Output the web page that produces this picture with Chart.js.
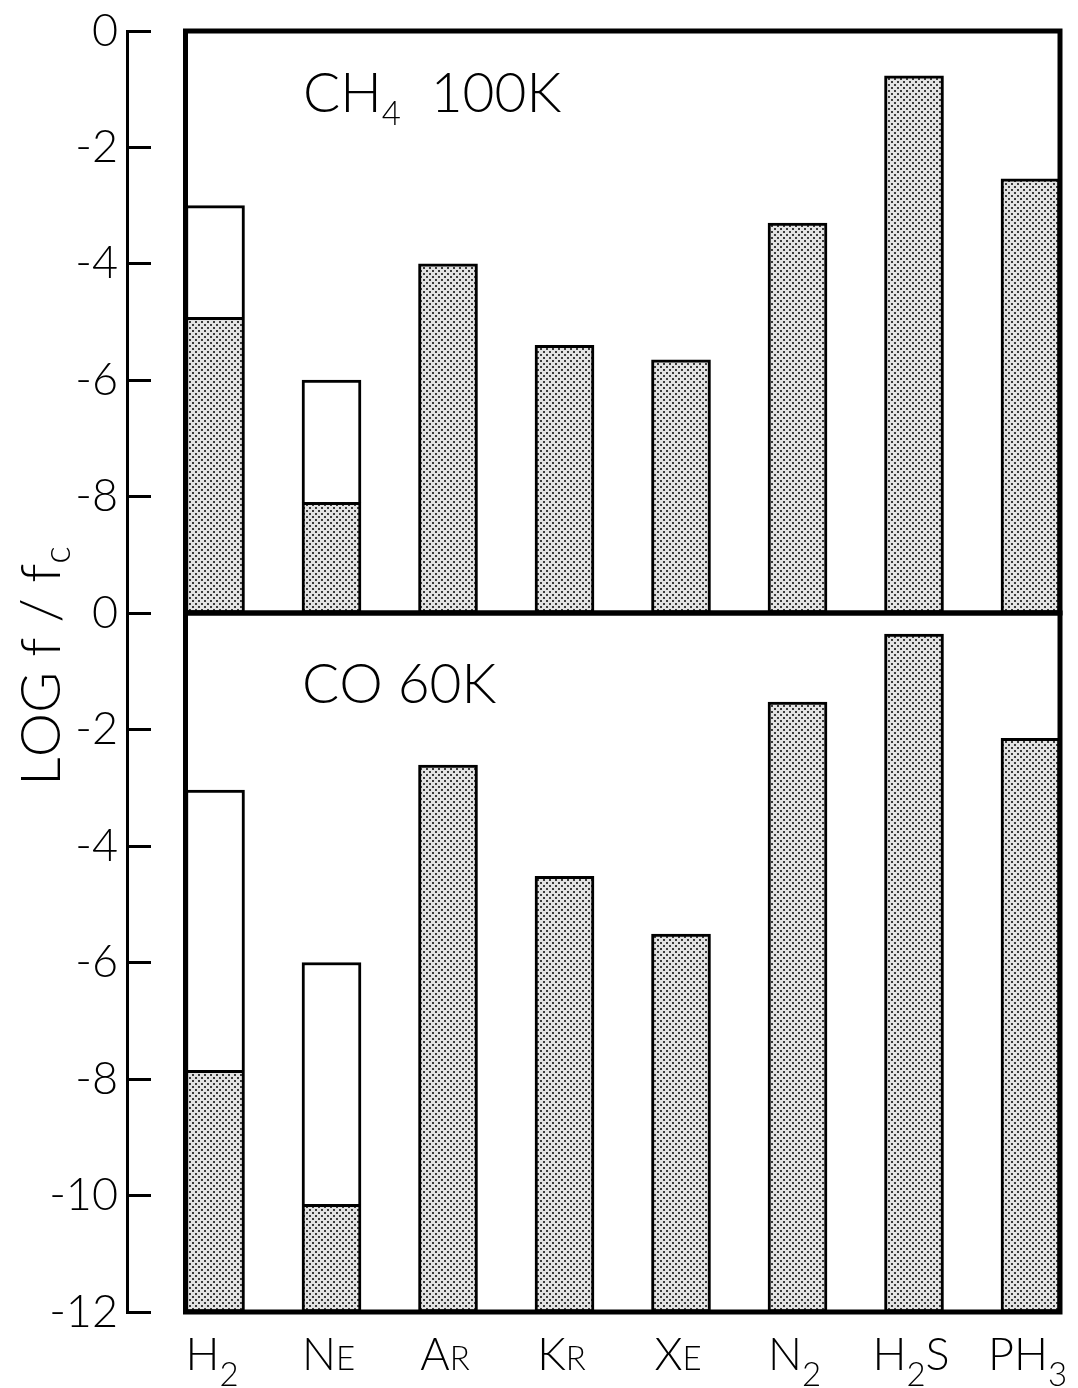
<!DOCTYPE html>
<html>
<head>
<meta charset="utf-8">
<title>LOG f / fc : CH4 100K and CO 60K</title>
<script src="https://cdn.jsdelivr.net/npm/chart.js@4.4.1/dist/chart.umd.min.js"></script>
<style>
  html, body { margin: 0; padding: 0; background: #fff; }
  #wrap { position: relative; width: 1078px; height: 1388px; }
  #wrap canvas { position: absolute; left: 0; top: 0; }
</style>
</head>
<body>
<div id="wrap">
  <canvas id="ch4Chart" width="1078" height="1388"></canvas>
  <canvas id="coChart" width="1078" height="1388"></canvas>
</div>
<script>
// -- Data --
const molecules = ["H_2", "Ne", "Ar", "Kr", "Xe", "N_2", "H_2S", "PH_3"];

const ch4Ticks = [0, -2, -4, -6, -8];
const ch4Stippled = [-4.92, -8.1, -4.0, -5.4, -5.65, -3.3, -0.77, -2.54];
const ch4OpenTop = [-3.0, -6.0, null, null, null, null, null, null];

const coTicks = [0, -2, -4, -6, -8, -10, -12];
const coStippled = [-7.85, -10.15, -2.61, -4.52, -5.51, -1.53, -0.36, -2.15];
const coOpenTop = [-3.04, -6.0, null, null, null, null, null, null];

const FONT = 'Lato, "Liberation Sans", Arial, sans-serif';
const WEIGHT = 300;
const BAR_W = 59;

// -- dotted fill like the old stipple screen --
function makeStipple(ctx) {
  const c = document.createElement("canvas");
  c.width = 6;
  c.height = 6;
  const g = c.getContext("2d");
  g.fillStyle = "#e2e2e2";
  g.fillRect(0, 0, 6, 6);
  g.fillStyle = "#3a3a3a";
  g.fillRect(0, 0, 2, 2);
  g.fillRect(3, 3, 2, 2);
  return ctx.createPattern(c, "repeat");
}

// -- text with subscripts ("_x") and optional small caps for lowercase --
function drawRich(ctx, str, x, y, size, opts) {
  const parts = [];
  for (let i = 0; i < str.length; i++) {
    const ch = str[i];
    if (ch === "_" && i + 1 < str.length) {
      parts.push({ t: str[i + 1], kind: "sub" });
      i++;
    } else if (opts.smallCaps && /[a-z]/.test(ch)) {
      parts.push({ t: ch.toUpperCase(), kind: "sc" });
    } else {
      parts.push({ t: ch, kind: "main" });
    }
  }
  const fontFor = (k) =>
    WEIGHT + " " + (k === "sub" ? opts.subSize : k === "sc" ? opts.scSize : size) + "px " + FONT;
  let total = 0;
  parts.forEach((p) => {
    ctx.font = fontFor(p.kind);
    p.w = ctx.measureText(p.t).width;
    total += p.w;
  });
  ctx.save();
  ctx.fillStyle = "#000";
  ctx.textBaseline = "alphabetic";
  ctx.textAlign = "left";
  ctx.translate(x, y);
  if (opts.rotate) ctx.rotate(opts.rotate);
  let cx = opts.align === "center" ? -total / 2 : 0;
  parts.forEach((p) => {
    ctx.font = fontFor(p.kind);
    ctx.fillText(p.t, cx, p.kind === "sub" ? opts.subDrop : 0);
    cx += p.w;
  });
  ctx.restore();
}

// -- heavy box round each panel, edges on the outer bars --
const framePlugin = {
  id: "frame",
  afterDatasetsDraw(chart) {
    const { ctx, scales } = chart;
    const x = scales.x, y = scales.y;
    const left = x.getPixelForValue(0) - BAR_W / 2;
    const right = x.getPixelForValue(molecules.length - 1) + BAR_W / 2;
    const top = y.getPixelForValue(y.max);
    const bottom = y.getPixelForValue(y.min);
    ctx.save();
    ctx.lineWidth = 5;
    ctx.strokeStyle = "#000";
    ctx.strokeRect(left, top, right - left, bottom - top);
    ctx.restore();
  },
};

function panelLabel(text, dx, dy) {
  return {
    id: "panelLabel",
    afterDraw(chart) {
      const a = chart.chartArea;
      drawRich(chart.ctx, text, a.left + dx, a.top + dy, 55, {
        subSize: 33,
        subDrop: 13,
      });
    },
  };
}

// -- molecule names under the lower panel and the shared y title --
const axisTextPlugin = {
  id: "axisText",
  afterDraw(chart) {
    const { ctx, scales } = chart;
    molecules.forEach((m, i) => {
      drawRich(ctx, m, scales.x.getPixelForValue(i) - 3, 1370, 45, {
        subSize: 33,
        subDrop: 16,
        scSize: 33,
        smallCaps: true,
        align: "center",
      });
    });
    drawRich(ctx, "LOG f / f_c", 60, 666, 56, {
      subSize: 37,
      subDrop: 10,
      rotate: -Math.PI / 2,
      align: "center",
    });
  },
};

// -- builds one panel --
function makePanel(id, stippled, openTop, yMin, ticks, padTop, padBottom, plugins) {
  const ctx = document.getElementById(id).getContext("2d");
  const stippledData = stippled.map((v, i) => ({ x: i, y: [yMin, v] }));
  const openData = [];
  openTop.forEach((v, i) => {
    if (v !== null) openData.push({ x: i, y: [stippled[i], v] });
  });

  return new Chart(ctx, {
    type: "bar",
    data: {
      datasets: [
        {
          label: "stippled",
          data: stippledData,
          backgroundColor: makeStipple(ctx),
          borderColor: "#000",
          borderWidth: 3,
          borderSkipped: false,
          barThickness: BAR_W,
          grouped: false,
        },
        {
          label: "open",
          data: openData,
          backgroundColor: "#fff",
          borderColor: "#000",
          borderWidth: 3,
          // pixel base sits below the top here, so "top" drops the lower edge
          borderSkipped: "top",
          barThickness: BAR_W,
          grouped: false,
        },
      ],
    },
    options: {
      responsive: false,
      animation: false,
      events: [],
      layout: {
        padding: { left: 0, right: 8, top: padTop, bottom: padBottom },
      },
      plugins: {
        legend: { display: false },
        title: { display: false },
        tooltip: { enabled: false },
      },
      scales: {
        x: {
          type: "linear",
          display: false,
          offset: false,
          min: -0.7554,
          max: 7.339,
        },
        y: {
          min: yMin,
          max: 0,
          afterFit: (scale) => {
            scale.width = 127;
            scale.paddingTop = 0;
            scale.paddingBottom = 0;
          },
          afterBuildTicks: (scale) => {
            scale.ticks = ticks.map((v) => ({ value: v }));
          },
          border: { display: true, color: "#000", width: 3 },
          grid: {
            drawOnChartArea: false,
            drawTicks: true,
            tickLength: -24,
            lineWidth: 3,
            color: "#000",
          },
          ticks: {
            padding: 33,
            color: "#000",
            font: { family: FONT, size: 45, weight: WEIGHT },
            callback: (v) => String(v),
          },
        },
      },
    },
    plugins: plugins,
  });
}

makePanel("ch4Chart", ch4Stippled, ch4OpenTop, -10, ch4Ticks, 31, 1388 - 613,
  [framePlugin, panelLabel("CH_4  100K", 176, 81)]);
makePanel("coChart", coStippled, coOpenTop, -12, coTicks, 613, 1388 - 1312,
  [framePlugin, panelLabel("CO 60K", 175, 90), axisTextPlugin]);
</script>
</body>
</html>
